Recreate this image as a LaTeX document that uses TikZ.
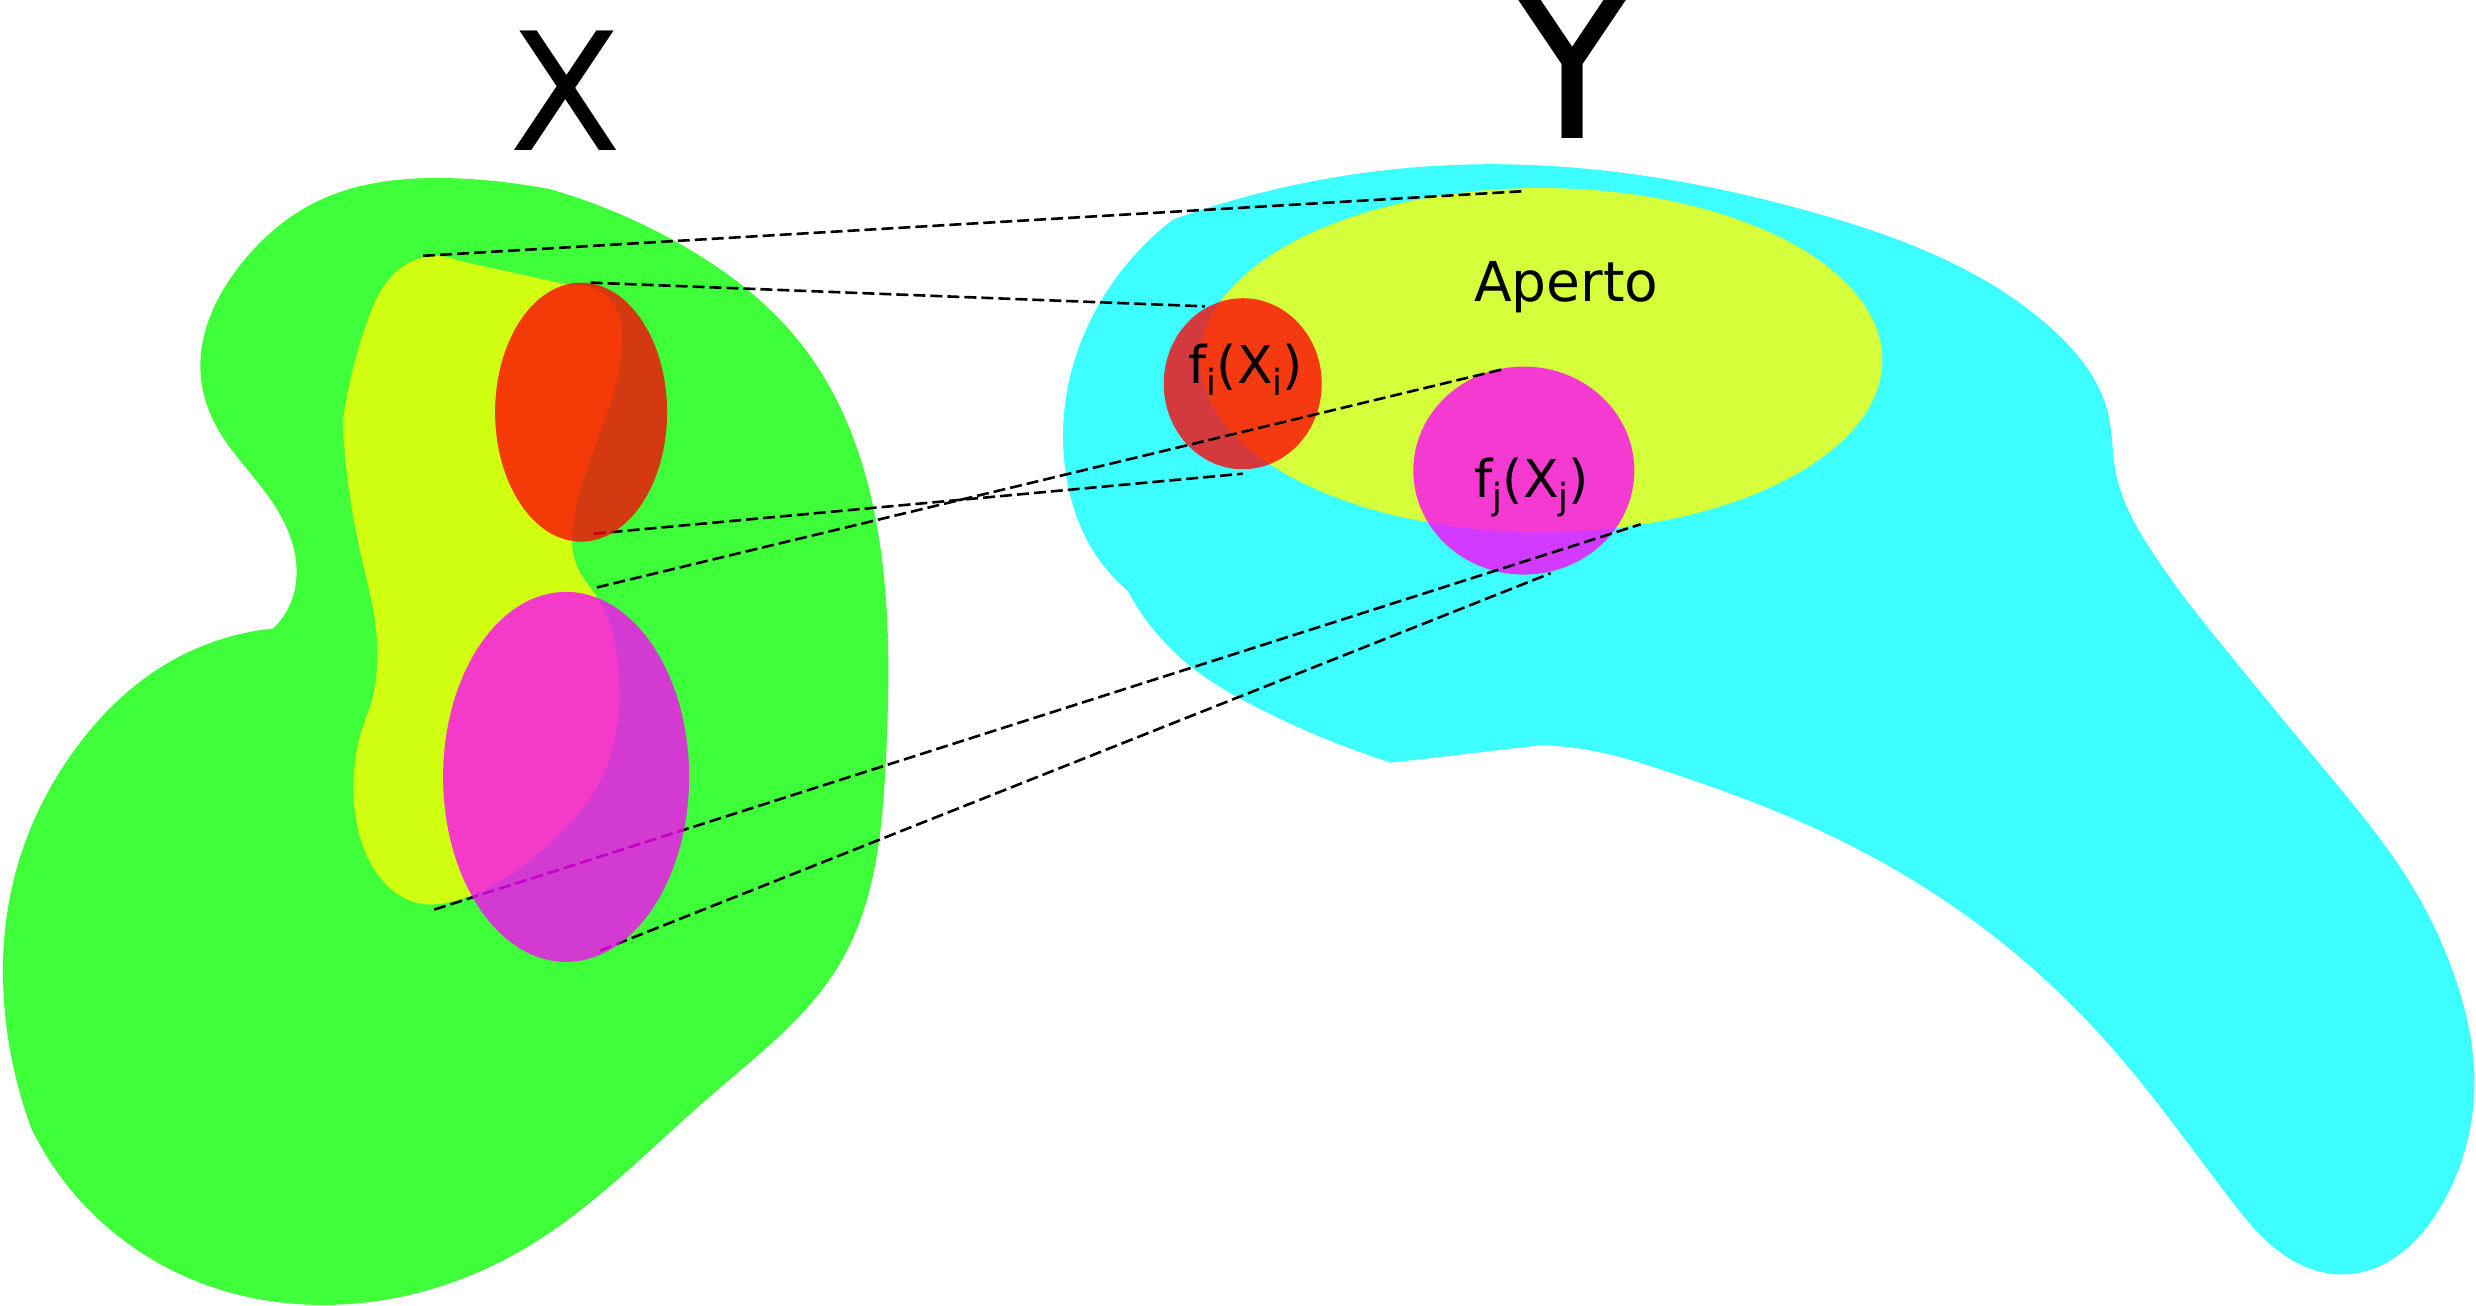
\documentclass[tikz,border=0pt]{standalone}
\usepackage{fontspec}
\setmainfont{DejaVu Sans}
\usetikzlibrary{shapes.geometric,hobby}
\definecolor{gX}{RGB}{62,255,58}
\definecolor{yX}{RGB}{208,255,18}
\definecolor{cY}{RGB}{62,255,255}
\definecolor{yY}{RGB}{212,255,58}
\definecolor{redA}{RGB}{255,0,5}
\definecolor{magA}{RGB}{255,0,255}
\newcommand\lowsub[1]{\raisebox{-0.23em}{\fontsize{36}{36}\selectfont #1}}
\begin{document}
\begin{tikzpicture}[x=1.579pt,y=-1.579pt,
  blob/.style={ellipse, draw=none, inner sep=0pt, outer sep=0pt},
  redblob/.style={blob, fill=redA, fill opacity=0.774},
  magblob/.style={blob, fill=magA, fill opacity=0.774},
  mapline/.style={black, line width=2.6pt, dash pattern=on 12pt off 5pt},
  bigtxt/.style={anchor=base, inner sep=0pt},
  lbl/.style={anchor=base, inner sep=0pt, font=\fontsize{52}{52}\selectfont}]
\useasboundingbox (0,0) rectangle (1568,827);
\clip (0,0) rectangle (1568,827);

% ---- Y space (cyan)
\fill[cY] plot[hobby] coordinates {(743,139) (942,104) (1150,135) (1298,207) (1335,262) (1340,300) (1360,345) (1410,412) (1470,485) (1531,567) (1555,620) (1567,685) (1548,760) (1486,807) (1440,790) (1412,759) (1336,662) (1251,584) (1137,519) (1060,490) (1000,474) (975,472)}
 -- (881,483)
 -- plot[hobby] coordinates {(881,483) (796,448) (754,422) (714,374)}
 -- plot[hobby] coordinates {(714,374) (690,345) (675,300) (674,260) (692,200) (743,139)} -- cycle;

\node[blob, fill=yY, minimum width=682pt, minimum height=344pt] (aperto) at (976,228) {};
\node[redblob, minimum width=158pt, minimum height=171pt] (fiY) at (787,243) {};
\node[magblob, minimum width=221pt, minimum height=208pt] (fjY) at (965,298) {};

% ---- X space (green)
\fill[gX] plot[hobby] coordinates {(349,120) (290,113) (200,128) (152,168) (127,236) (137,270) (169,313) (187,352) (184,382) (173,398)}
 -- plot[hobby] coordinates {(173,398) (106,420) (45,478) (8,560) (3,640) (20,715)}
 -- plot[hobby] coordinates {(20,715) (110,805) (218,826) (330,792) (450,694) (532,610) (561,481) (558,350) (509,220) (428,153) (349,120)} -- cycle;

\fill[yX] plot[hobby] coordinates {(363,181) (390,195) (394,215) (380,274) (364,325) (366,360) (378,378) (392,430) (384,486) (345,537) (290,570) (265,572) (238,552) (224,505) (226,475) (234,449)}
 -- plot[hobby] coordinates {(234,449) (239,410) (228,349) (217,267)}
 -- plot[hobby] coordinates {(217,267) (232,205) (248,175) (268,163) (290,165)} -- cycle;

% ---- end points of the mapping lines
\coordinate (a1) at (268,162); \coordinate (b1) at (966,121);
\coordinate (a2) at (374,179); \coordinate (b2) at (763,194);
\coordinate (a3) at (376,338); \coordinate (b3) at (787,300);
\coordinate (a4) at (378,372); \coordinate (b4) at (951,234);
\coordinate (a5) at (275,576); \coordinate (b5) at (1039,332);
\coordinate (a6) at (380,602); \coordinate (b6) at (982,363);
\draw[mapline] (a1) -- (b1);
\draw[mapline] (a2) -- (b2);
\draw[mapline] (a3) -- (b3);
\draw[mapline] (a4) -- (b4);
\draw[mapline] (a5) -- (b5);
\draw[mapline] (a6) -- (b6);

\node[redblob, minimum width=172pt, minimum height=259pt] (Xi) at (368,261) {};
\node[magblob, minimum width=246pt, minimum height=370pt] (Xj) at (358.5,492) {};

% ---- labels
\node[bigtxt, font=\fontsize{164}{164}\selectfont] (labX) at (358,95) {X};
\node[bigtxt, font=\fontsize{213}{213}\selectfont] (labY) at (996,88) {Y};
\node[bigtxt, font=\fontsize{55}{55}\selectfont] (labA) at (992,191) {Aperto};
\node[lbl] (labfi) at (789,243) {f\lowsub{i}(X\lowsub{i})};
\node[lbl] (labfj) at (970,315) {f\lowsub{j}(X\lowsub{j})};
\end{tikzpicture}
\end{document}
